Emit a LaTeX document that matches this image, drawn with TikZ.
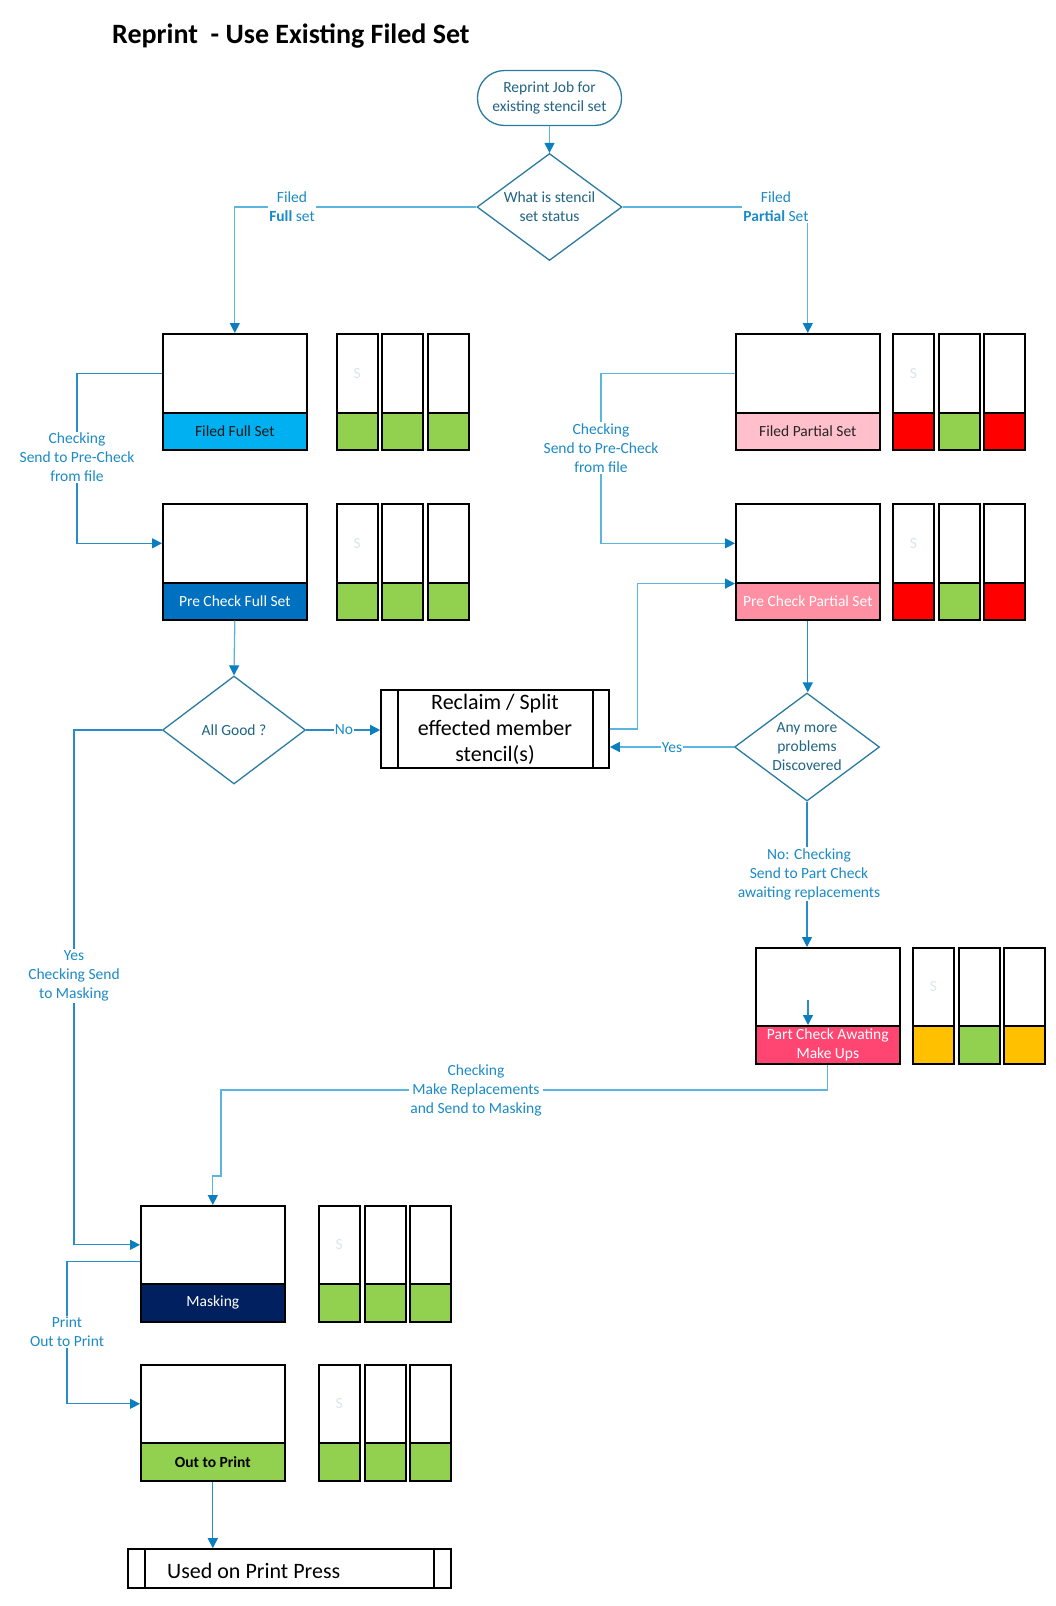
\documentclass[tikz,border=0pt]{standalone}
\usepackage{fontspec}
\setmainfont{Carlito}
\usetikzlibrary{shapes.geometric,arrows.meta,calc}
\definecolor{connc}{HTML}{5DB4DE}
\definecolor{conndc}{HTML}{2A8CC6}
\definecolor{tipc}{HTML}{0B7EBF}
\definecolor{lblc}{HTML}{1B8AC6}
\definecolor{flowline}{HTML}{2A7BA0}
\definecolor{flowtxt}{HTML}{1F6484}
\definecolor{ghost}{HTML}{DCE5EF}
\definecolor{ffsfill}{HTML}{00B0F0}
\definecolor{pfsfill}{HTML}{0070C0}
\definecolor{fpsfill}{HTML}{FFBFCB}
\definecolor{ppsfill}{HTML}{FF8FA2}
\definecolor{pcfill}{HTML}{FF4571}
\definecolor{mskfill}{HTML}{002060}
\definecolor{okgreen}{HTML}{92D050}
\definecolor{badred}{HTML}{FF0000}
\definecolor{warnorange}{HTML}{FFC000}
\newcommand\fs{\fontsize{15.5}{19}\selectfont}
\newcommand\fbig{\fontsize{22}{26}\selectfont}
\newcommand\stage[8]{%
  \node[stagetop, minimum height={#4-#3}] (#1T) at (#2,#3) {};
  \node[stageband, minimum height={#5-#4}, fill=#6, text=#7] (#1B) at (#2,#4) {#8};
}
\newcommand\mini[7]{%
  \node[minitop, minimum height={#4-#3}] (#1T) at (#2,#3) {#7};
  \node[miniband, minimum height={#5-#4}, fill=#6] (#1B) at (#2,#4) {};
}
\begin{document}
\begin{tikzpicture}[x=1pt,y=-1pt,
  conn/.style={draw=connc, line width=1.3pt},
  connd/.style={draw=conndc, line width=1.3pt},
  arr/.style={-{Triangle[length=10pt,width=10pt,color=tipc]}},
  lbl/.style={fill=white, text=lblc, font=\fs, align=center, inner sep=1.5pt},
  term/.style={draw=flowline, line width=1.3pt, rounded corners=27pt, minimum width=144pt, minimum height=55pt, align=center, font=\fs, text=flowtxt, inner sep=0, fill=white},
  dec/.style={diamond, aspect=1.35, draw=flowline, line width=1.3pt, minimum width=145pt, minimum height=107pt, align=center, font=\fs, text=flowtxt, inner sep=0, fill=white},
  stagetop/.style={draw=black, line width=1.6pt, fill=white, minimum width=144pt, inner sep=0, anchor=north west},
  stageband/.style={draw=black, line width=1.6pt, minimum width=144pt, inner sep=0, anchor=north west, font=\fs, align=center},
  minitop/.style={draw=black, line width=1.6pt, fill=white, minimum width=41pt, inner sep=0, anchor=north west, text=ghost, font=\fs},
  miniband/.style={draw=black, line width=1.6pt, minimum width=41pt, inner sep=0, anchor=north west},
  proc/.style={draw=black, line width=1.6pt, fill=white, inner sep=0}
]
\useasboundingbox (0,0) rectangle (1055,1606);
\fill[white] (0,0) rectangle (1055,1606);

% title
\node[anchor=base west, font=\fontsize{28}{34}\selectfont\bfseries, inner sep=0] (title) at (112,43) {Reprint\ \ - Use Existing Filed Set};

% start and first decision
\node[term] (start) at (549.5,98) {Reprint Job for\\existing stencil set};
\node[dec] (status) at (549.5,207) {What is stencil\\set status};

% stages
\stage{ffs}{162}{333}{412}{449}{ffsfill}{black!90}{Filed Full Set}
\stage{pfs}{162}{503}{582}{619}{pfsfill}{white}{Pre Check Full Set}
\stage{fps}{735}{333}{412}{449}{fpsfill}{black!85}{Filed Partial Set}
\stage{pps}{735}{503}{582}{619}{ppsfill}{white}{Pre Check Partial Set}
\stage{pc}{755}{947}{1025}{1063}{pcfill}{white}{Part Check Awating\\Make Ups}
\stage{msk}{140}{1205}{1283}{1321}{mskfill}{white}{Masking}
\stage{out}{140}{1364}{1442}{1480}{okgreen}{black}{\textbf{Out to Print}}

% mini stencils
\mini{a1}{336}{333}{412}{449}{okgreen}{S}
\mini{a2}{381}{333}{412}{449}{okgreen}{}
\mini{a3}{427}{333}{412}{449}{okgreen}{}
\mini{b1}{336}{503}{582}{619}{okgreen}{S}
\mini{b2}{381}{503}{582}{619}{okgreen}{}
\mini{b3}{427}{503}{582}{619}{okgreen}{}
\mini{c1}{892}{333}{412}{449}{badred}{S}
\mini{c2}{938}{333}{412}{449}{okgreen}{}
\mini{c3}{983}{333}{412}{449}{badred}{}
\mini{d1}{892}{503}{582}{619}{badred}{S}
\mini{d2}{938}{503}{582}{619}{okgreen}{}
\mini{d3}{983}{503}{582}{619}{badred}{}
\mini{e1}{912}{947}{1025}{1063}{warnorange}{S}
\mini{e2}{958}{947}{1025}{1063}{okgreen}{}
\mini{e3}{1003}{947}{1025}{1063}{warnorange}{}
\mini{f1}{318}{1205}{1283}{1321}{okgreen}{S}
\mini{f2}{364}{1205}{1283}{1321}{okgreen}{}
\mini{f3}{409}{1205}{1283}{1321}{okgreen}{}
\mini{g1}{318}{1364}{1442}{1480}{okgreen}{S}
\mini{g2}{364}{1364}{1442}{1480}{okgreen}{}
\mini{g3}{409}{1364}{1442}{1480}{okgreen}{}

% decisions and processes
\node[dec, minimum width=143pt, minimum height=108pt] (allgood) at (234,730) {All Good ?};
\node[dec, minimum width=145pt, minimum height=108pt] (anymore) at (807,747) {Any more\\problems\\Discovered};
\node[proc, minimum width=228pt, minimum height=78pt, align=center, font=\fbig] (reclaim) at (495,729) {Reclaim / Split\\effected member\\stencil(s)};
\draw[black, line width=1.6pt] ([xshift=18pt]reclaim.north west) -- ([xshift=18pt]reclaim.south west);
\draw[black, line width=1.6pt] ([xshift=-17pt]reclaim.north east) -- ([xshift=-17pt]reclaim.south east);
\node[proc, minimum width=323pt, minimum height=39pt] (used) at (289.5,1568.5) {};
\draw[black, line width=1.6pt] ([xshift=18pt]used.north west) -- ([xshift=18pt]used.south west);
\draw[black, line width=1.6pt] ([xshift=-18pt]used.north east) -- ([xshift=-18pt]used.south east);
\node[anchor=base west, font=\fbig, inner sep=0] (usedtxt) at (167,1578) {Used on Print Press};

% connectors
\draw[conn, arr] (start) -- (status);
\draw[conn, arr] (status.west) -| (ffsT.north);
\draw[conn, arr] (status.east) -| (fpsT.north);
\draw[connd, arr] (ffsT.west) -- ++(-85,0) |- (pfsT.west);
\draw[conn, arr] (fpsT.west) -- ++(-134,0) |- (ppsT.west);
\draw[conn, arr] (pfsB.south) -- (allgood.north);
\draw[connd, arr] (allgood.east) -- (allgood.east -| reclaim.west);
\draw[conn, arr] (reclaim.east) -- ++(28,0) |- (ppsT.south west);
\draw[connd, arr] (ppsB.south) -- (ppsB.south |- anymore.north);
\draw[conn, arr] (anymore.west) -- (anymore.west -| reclaim.east);
\draw[connd, arr] (anymore.south) -- (anymore.south |- pcT.north);
\coordinate (pcin) at (808,1000);
\draw[connd, arr] (pcin) -- (pcin |- pcB.north);
\draw[conn, arr] (pcB.south) |- (221,1090) -- (221,1176) -| (mskT.north);
\draw[connd, arr] (allgood.west) -- ++(-88,0) |- (mskT.west);
\draw[connd, arr] ([yshift=-17pt]mskT.west) -- ++(-73,0) |- (outT.west);
\draw[connd, arr] (outB.south) -- (outB.south |- used.north);

% connector labels
\node[lbl] (lfull) at (292,206.5) {Filed\\\textbf{Full} set};
\node[lbl] (lpart) at (776,206.5) {Filed\\\textbf{Partial} Set};
\node[lbl] (lchk1) at (77,457.5) {Checking\\Send to Pre-Check\\from file};
\node[lbl] (lchk2) at (601,448) {Checking\\Send to Pre-Check\\from file};
\node[lbl, inner sep=0.5pt] (lno) at (344,730) {No};
\node[lbl, inner sep=0.5pt] (lyes) at (672,748) {Yes};
\node[lbl] (lpc) at (809,874) {No: Checking\\Send to Part Check\\awaiting replacements};
\node[lbl] (lmr) at (476,1090) {Checking\\Make Replacements\\and Send to Masking};
\node[lbl] (lym) at (74,976) {Yes\\Checking Send\\to Masking};
\node[lbl] (lprint) at (67,1332) {Print\\Out to Print};
\end{tikzpicture}
\end{document}
